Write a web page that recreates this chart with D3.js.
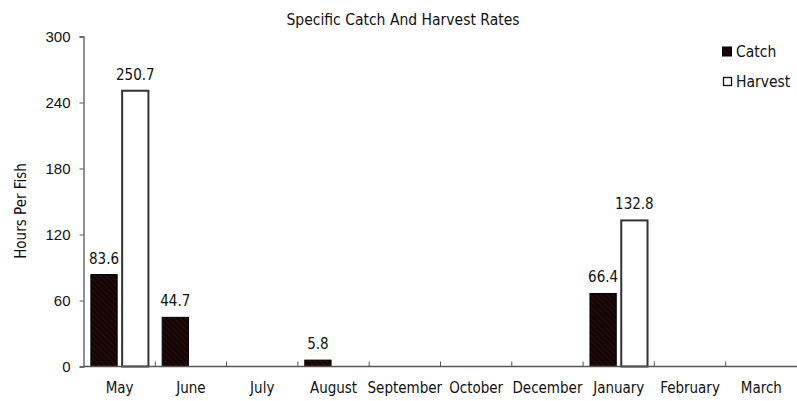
<!DOCTYPE html>
<html><head><meta charset="utf-8">
<script src="https://cdn.jsdelivr.net/npm/d3@7"></script>
<style>
body{margin:0;background:#fff;}
svg{display:block;font-family:"DejaVu Sans Condensed","Liberation Sans Narrow",sans-serif;}
</style></head>
<body><svg id="c" width="797" height="401"></svg>
<script>
const categories = ["May","June","July","August","September","October","December","January","February","March"];
const catchValues = [83.6, 44.7, null, 5.8, null, null, null, 66.4, null, null];
const harvestValues = [250.7, null, null, null, null, null, null, 132.8, null, null];
const yTicks = [0, 60, 120, 180, 240, 300];
const seriesNames = ["Catch", "Harvest"];
const title = "Specific Catch And Harvest Rates";
const yLabel = "Hours Per Fish";

const svg = d3.select("#c");
const m = {l: 84, r: 0, t: 36.5, b: 34.5};
const W = 797, H = 401;

const defs = svg.append("defs");
const pat = defs.append("pattern").attr("id","hatch").attr("patternUnits","userSpaceOnUse")
  .attr("width",4).attr("height",4).attr("patternTransform","rotate(-45)");
pat.append("rect").attr("width",4).attr("height",4).attr("fill","#140606");
pat.append("line").attr("x1",0).attr("y1",0).attr("x2",0).attr("y2",4).attr("stroke","#3a1010").attr("stroke-width",1.2);

const x = d3.scaleBand().domain(categories).range([m.l, W - m.r]).paddingInner(0).paddingOuter(0);
const x1 = d3.scaleBand().domain(seriesNames).range([0, x.bandwidth()]).paddingInner(0.16).paddingOuter(0.22);
const y = d3.scaleLinear().domain([0, 300]).range([H - m.b, m.t]);

// title
svg.append("text").attr("x", 403).attr("y", 25).attr("text-anchor","middle")
  .attr("font-size", 15.5).attr("fill","#111").text(title);

// y label
svg.append("text").attr("transform","translate(26,211) rotate(-90)").attr("text-anchor","middle")
  .attr("font-size", 15).attr("fill","#111").text(yLabel);

// y axis
const ya = svg.append("g").attr("transform",`translate(${m.l - 0.5},0)`)
  .call(d3.axisLeft(y).tickValues(yTicks).tickSize(4).tickPadding(9));
ya.selectAll("path").attr("stroke","#555").attr("stroke-width",1.3);
ya.selectAll("line").attr("stroke","#555");
ya.selectAll("text").attr("font-size",15).attr("fill","#111").attr("font-family","inherit");

// bars
const data = categories.map((c,i)=>({c, vals:[{s:"Catch", v:catchValues[i]},{s:"Harvest", v:harvestValues[i]}]}));
const g = svg.append("g");
const groups = g.selectAll("g").data(data).join("g").attr("transform", d=>`translate(${x(d.c)},0)`);
groups.selectAll("rect").data(d=>d.vals.filter(v=>v.v!==null)).join("rect")
  .attr("x", d=>x1(d.s)).attr("width", x1.bandwidth())
  .attr("y", d=>y(d.v)).attr("height", d=>y(0)-y(d.v))
  .attr("fill", d=>d.s==="Catch" ? "url(#hatch)" : "#fff")
  .attr("stroke", d=>d.s==="Catch" ? "#000" : "#333")
  .attr("stroke-width", d=>d.s==="Catch" ? 1 : 2);
groups.selectAll("text").data(d=>d.vals.filter(v=>v.v!==null)).join("text")
  .attr("x", d=>x1(d.s)+x1.bandwidth()/2).attr("y", d=>y(d.v)-11)
  .attr("text-anchor","middle").attr("font-size",15).attr("fill","#111").text(d=>d.v);

// x axis
const xa = svg.append("g").attr("transform",`translate(0,${H - m.b})`);
xa.append("line").attr("x1", m.l-1).attr("x2", W).attr("y1",0).attr("y2",0).attr("stroke","#555").attr("stroke-width",1.3);
xa.selectAll("line.tk").data(categories.slice(1)).join("line").attr("class","tk")
  .attr("x1", d=>x(d)).attr("x2", d=>x(d)).attr("y1",0).attr("y2",-5).attr("stroke","#555");
xa.selectAll("text").data(categories).join("text")
  .attr("x", d=>x(d)+x.bandwidth()/2).attr("y", 26.5).attr("text-anchor","middle")
  .attr("font-size",15).attr("fill","#111").text(d=>d);

// legend
const lg = svg.append("g");
seriesNames.forEach((s,i)=>{
  const yy = 47 + i*30;
  lg.append("rect").attr("x", i===0?722.5:723.5).attr("y", i===0?yy:yy+0.5).attr("width", i===0?9:8).attr("height", i===0?9:8)
    .attr("fill", i===0 ? "url(#hatch)" : "#fff").attr("stroke", i===0?"#000":"#111").attr("stroke-width", i===0?1:1.3);
  lg.append("text").attr("x", 736).attr("y", yy+10).attr("font-size",15.5).attr("fill","#111").text(s);
});
</script></body></html>
